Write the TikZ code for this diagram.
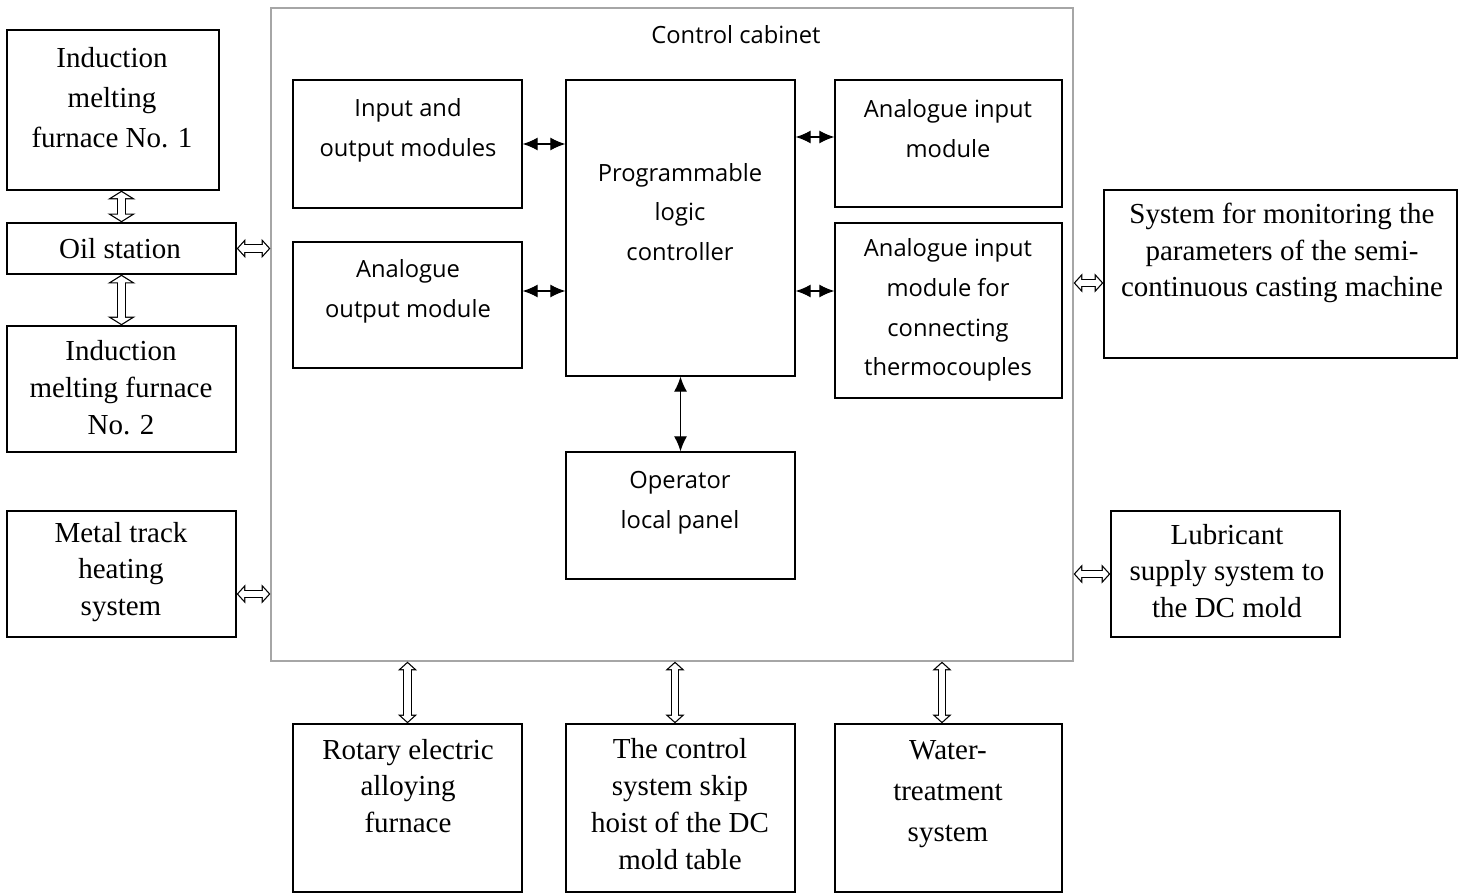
\documentclass[tikz,border=0pt]{standalone}
\usepackage{fontspec}
\setmainfont{Liberation Serif}
\newfontfamily\cabfont{Open Sans}
\usetikzlibrary{arrows.meta}
\tikzset{
  box/.style={rectangle, draw=black, line width=0.8pt, minimum width=4.58cm, inner sep=0pt},
  outtxt/.style={align=center, font=\fontsize{16.5}{21}\selectfont},
  intxt/.style={align=center, font=\cabfont\fontsize{13.5}{22.7}\selectfont},
  link/.style={line width=0.7pt, {Latex[length=3mm,width=2.6mm]}-{Latex[length=3mm,width=2.6mm]}},
  hollow/.style={line width=5pt,
    {Triangle[length=5pt,width=11pt,line width=0pt]}-{Triangle[length=5pt,width=11pt,line width=0pt]},
    postaction={draw=white, line width=3.6pt, shorten <=0.95pt, shorten >=0.95pt,
      {Triangle[length=3.35pt,width=7.4pt,line width=0pt]}-{Triangle[length=3.35pt,width=7.4pt,line width=0pt]}}},
  wide hollow/.style={line width=5pt,
    {Triangle[length=5pt,width=16pt,line width=0pt]}-{Triangle[length=5pt,width=16pt,line width=0pt]},
    postaction={draw=white, line width=3.6pt, shorten <=0.83pt, shorten >=0.83pt,
      {Triangle[length=3.47pt,width=11.1pt,line width=0pt]}-{Triangle[length=3.47pt,width=11.1pt,line width=0pt]}}}
}
\begin{document}
\begin{tikzpicture}[x=0.02cm, y=-0.02cm]
    \useasboundingbox (0,0) rectangle (1466,895);
    % Control cabinet
    \node[box, draw=black!35, minimum width=16.04cm, minimum height=13.06cm] (cab) at (672,334.5) {};
    \node[intxt] (cab-t) at (736,35) {Control cabinet};

    \node[box, minimum height=2.56cm] (io) at (407.5,144) {};
    \node[intxt] (io-t) at (408,130) {Input and\\output modules};
    \node[box, minimum height=2.52cm] (ao) at (407.5,305) {};
    \node[intxt] (ao-t) at (408,291) {Analogue\\output module};
    \node[box, minimum height=5.92cm] (plc) at (680.5,228) {};
    \node[intxt] (plc-t) at (680,212) {Programmable\\logic\\controller};
    \node[box, minimum width=4.54cm, minimum height=2.54cm] (ai) at (948.5,143.5) {};
    \node[intxt] (ai-t) at (948,129) {Analogue input\\module};
    \node[box, minimum width=4.54cm, minimum height=3.5cm] (ait) at (948.5,310.5) {};
    \node[intxt] (ait-t) at (948,310) {Analogue input\\module for\\connecting\\thermocouples};
    \node[box, minimum height=2.54cm] (olp) at (680.5,515.5) {};
    \node[intxt] (olp-t) at (680,503) {Operator\\local panel};

    % Left side
    \node[box, minimum width=4.24cm, minimum height=3.2cm] (imf1) at (113,110) {};
    \node[outtxt, font=\fontsize{16.5}{22.7}\selectfont] (imf1-t) at (112,98) {Induction\\melting\\furnace No. 1};
    \node[box, minimum height=1.02cm] (oil) at (121.5,248.5) {};
    \node[outtxt] (oil-t) at (120,249) {Oil station};
    \node[box, minimum height=2.52cm] (imf2) at (121.5,389) {};
    \node[outtxt] (imf2-t) at (121,388) {Induction\\melting furnace\\No. 2};
    \node[box, minimum height=2.52cm] (track) at (121.5,574) {};
    \node[outtxt] (track-t) at (121,572) {Metal track\\heating\\system};

    % Right side
    \node[box, minimum width=7.06cm, minimum height=3.36cm] (mon) at (1280.5,274) {};
    \node[outtxt] (mon-t) at (1282,253) {System for monitoring the\\parameters of the semi-\\continuous casting machine};
    \node[box, minimum height=2.52cm] (lub) at (1225.5,574) {};
    \node[outtxt] (lub-t) at (1227,571) {Lubricant\\supply system to\\the DC mold};

    % Bottom
    \node[box, minimum height=3.36cm] (rot) at (407.5,808) {};
    \node[outtxt] (rot-t) at (408,786) {Rotary electric\\alloying\\furnace};
    \node[box, minimum height=3.36cm] (skip) at (680.5,808) {};
    \node[outtxt] (skip-t) at (680,804) {The control\\system skip\\hoist of the DC\\mold table};
    \node[box, minimum width=4.54cm, minimum height=3.36cm] (wat) at (948.5,808) {};
    \node[outtxt, font=\fontsize{16.5}{23.5}\selectfont] (wat-t) at (948,794) {Water-\\treatment\\system};

    % Links inside the cabinet
    \draw[link] (io.east) -- (io.east -| plc.west);
    \draw[link] ([yshift=0.28cm]ao.east) -- ([yshift=0.28cm]ao.east -| plc.west);
    \draw[link] ([yshift=0.13cm]ai.west -| plc.east) -- ([yshift=0.13cm]ai.west);
    \draw[link] ([yshift=0.39cm]ait.west -| plc.east) -- ([yshift=0.39cm]ait.west);
    \draw[link] (plc.south) -- (olp.north);

    % Links to the cabinet
    \draw[wide hollow] (oil.north) -- (oil.north |- imf1.south);
    \draw[wide hollow] (oil.south) -- (imf2.north);
    \draw[hollow] (oil.east) -- (oil.east -| cab.west);
    \draw[hollow] ([yshift=-0.4cm]track.east) -- ([yshift=-0.4cm]track.east -| cab.west);
    \draw[hollow] ([yshift=-0.18cm]mon.west -| cab.east) -- ([yshift=-0.18cm]mon.west);
    \draw[hollow] (lub.west -| cab.east) -- (lub.west);
    \draw[hollow] (rot.north |- cab.south) -- (rot.north);
    \draw[hollow] ([xshift=-0.11cm]skip.north |- cab.south) -- ([xshift=-0.11cm]skip.north);
    \draw[hollow] ([xshift=-0.13cm]wat.north |- cab.south) -- ([xshift=-0.13cm]wat.north);
\end{tikzpicture}
\end{document}
